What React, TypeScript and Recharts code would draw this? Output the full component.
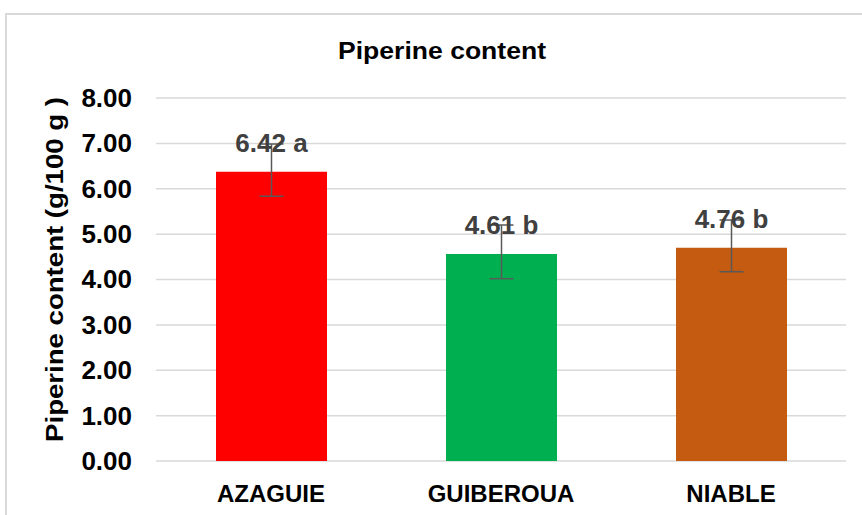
import React from 'react';
import {
  BarChart,
  Bar,
  XAxis,
  YAxis,
  CartesianGrid,
  ErrorBar,
  LabelList,
  Cell,
  Customized,
} from 'recharts';

const categories = ['AZAGUIE', 'GUIBEROUA', 'NIABLE'];
const means = [6.376, 4.562, 4.701];
const errLow = [0.54, 0.544, 0.529];
const errHigh = [0.61, 0.639, 0.61];
const valueLabels = ['6.42 a', '4.61 b', '4.76 b'];
const barColors = ['#FF0000', '#00B050', '#C55A11'];
const yTicks = [0, 1, 2, 3, 4, 5, 6, 7, 8];
const boundaryTicks = [0, 1, 2, 3];

const data = categories.map((c, i) => ({
  name: c,
  value: means[i],
  err: [errLow[i], errHigh[i]],
  label: valueLabels[i],
}));

const FONT = "'Liberation Sans', Arial, Helvetica, sans-serif";

const renderValueLabel = (props: any) => {
  const { x, y, width, value } = props;
  return (
    <text
      x={Number(x) + Number(width) / 2}
      y={Number(y) - 20}
      textAnchor="middle"
      fontSize={26}
      fontWeight="bold"
      fill="#404040"
      fontFamily={FONT}
    >
      {value}
    </text>
  );
};

const renderYLabel = (props: any) => {
  const vb = props.viewBox || { x: 0, y: 98, width: 156, height: 363 };
  const cx = vb.x + 63;
  const cy = vb.y + vb.height / 2 - 10;
  return (
    <text
      x={0}
      y={0}
      transform={`translate(${cx}, ${cy}) rotate(-90) scale(1.2, 1)`}
      textAnchor="middle"
      fontSize={23}
      fontWeight="bold"
      fill="#000000"
      fontFamily={FONT}
    >
      Piperine content (g/100 g )
    </text>
  );
};

const renderYTick = (props: any) => {
  const { x, y, payload } = props;
  return (
    <text
      x={0}
      y={0}
      transform={`translate(${x}, ${y}) scale(1.04, 1)`}
      dy="0.355em"
      textAnchor="end"
      fontSize={25}
      fontWeight="bold"
      fill="#000000"
      fontFamily={FONT}
    >
      {Number(payload.value).toFixed(2)}
    </text>
  );
};

const Title = () => (
  <text
    x={0}
    y={0}
    transform="translate(442, 59) scale(1.13, 1)"
    textAnchor="middle"
    fontSize={23.5}
    fontWeight="bold"
    fill="#000000"
    fontFamily={FONT}
  >
    Piperine content
  </text>
);

export default function App() {
  return (
    <div
      style={{
        position: 'absolute',
        left: 0,
        top: 0,
        width: 862,
        height: 515,
        overflow: 'hidden',
        background: '#ffffff',
      }}
    >
      <div
        style={{
          position: 'absolute',
          left: 5,
          top: 13,
          width: 1000,
          height: 1000,
          border: '2px solid #d9d9d9',
          boxSizing: 'border-box',
        }}
      />
      <div style={{ position: 'absolute', left: 0, top: 0 }}>
        <BarChart
          width={862}
          height={515}
          data={data}
          margin={{ top: 98, right: 16, bottom: 0, left: 0 }}
        >
          <CartesianGrid vertical={false} stroke="#d9d9d9" strokeWidth={1.5} />
          <XAxis
            xAxisId="bound"
            type="number"
            domain={[0, 3]}
            ticks={boundaryTicks}
            allowDataOverflow
            height={0}
            tick={false}
            tickSize={9}
            axisLine={{ stroke: '#d9d9d9', strokeWidth: 1.5 }}
            tickLine={{ stroke: '#d9d9d9', strokeWidth: 1.5 }}
          />
          <XAxis
            dataKey="name"
            height={54}
            axisLine={false}
            tickLine={false}
            tickSize={0}
            tickMargin={24}
            tick={{ fontSize: 24, fontWeight: 'bold', fill: '#000000', fontFamily: FONT }}
          />
          <YAxis
            width={156}
            domain={[0, 8]}
            ticks={yTicks}
            interval={0}
            axisLine={false}
            tickLine={false}
            tickSize={0}
            tickMargin={24}
            tick={renderYTick}
            label={{ content: renderYLabel }}
          />
          <Bar dataKey="value" barSize={111} isAnimationActive={false}>
            {data.map((d, i) => (
              <Cell key={d.name} fill={barColors[i]} />
            ))}
            <ErrorBar dataKey="err" width={12} stroke="#595959" strokeWidth={1.5} />
            <LabelList dataKey="label" content={renderValueLabel} />
          </Bar>
          <Customized component={Title} />
        </BarChart>
      </div>
    </div>
  );
}
